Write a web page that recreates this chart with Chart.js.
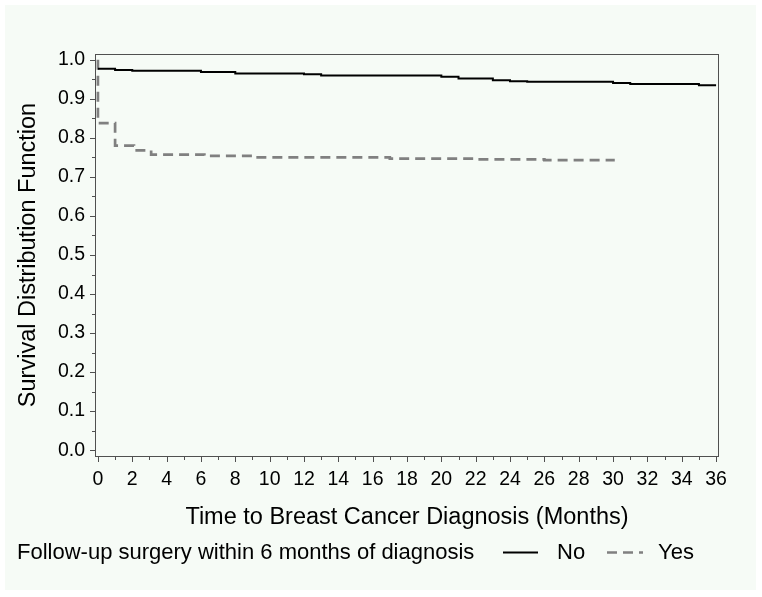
<!DOCTYPE html>
<html>
<head>
<meta charset="utf-8">
<script src="https://cdn.jsdelivr.net/npm/chart.js@4.4.1/dist/chart.umd.min.js"></script>
<style>
html,body{margin:0;padding:0;background:#ffffff;}
canvas{display:block;}
</style>
</head>
<body>
<canvas id="c" width="762" height="597"></canvas>
<script>
// ---- data ----
const noTime  = [0, 1, 2, 6, 8, 12, 13, 20, 21, 23, 24, 25, 30, 31, 35, 36];
const noSurv  = [0.977, 0.974, 0.972, 0.969, 0.965, 0.963, 0.960, 0.957, 0.952, 0.948, 0.945, 0.944, 0.941, 0.938, 0.935, 0.935];
const yesTime = [0, 0, 1, 2.1, 3.1, 6.2, 9, 17, 22, 26, 30.1];
const yesSurv = [1.0, 0.838, 0.780, 0.768, 0.757, 0.754, 0.750, 0.747, 0.745, 0.743, 0.743];
const xTickValues = [0,1,2,3,4,5,6,7,8,9,10,11,12,13,14,15,16,17,18,19,20,21,22,23,24,25,26,27,28,29,30,31,32,33,34,35,36];
const yTickValues = [0,0.05,0.1,0.15,0.2,0.25,0.3,0.35,0.4,0.45,0.5,0.55,0.6,0.65,0.7,0.75,0.8,0.85,0.9,0.95,1.0];
const seriesNames = ['No', 'Yes'];
const xTitle = 'Time to Breast Cancer Diagnosis (Months)';
const yTitle = 'Survival Distribution Function';
const legendTitle = 'Follow-up surgery within 6 months of diagnosis';

const FONT = "'Liberation Sans', Arial, Helvetica, sans-serif";
const BG = '#f6fbf6';
const GRAY = '#808080';

const toPts = (xs, ys) => xs.map((x, i) => ({x: x, y: ys[i]}));

const bgPlugin = {
  id: 'bg',
  beforeDraw(chart) {
    const ctx = chart.ctx;
    ctx.save();
    ctx.fillStyle = '#ffffff';
    ctx.fillRect(0, 0, chart.width, chart.height);
    ctx.fillStyle = BG;
    ctx.fillRect(5, 5, 751, 585);
    ctx.restore();
  }
};

const axesPlugin = {
  id: 'axesBox',
  afterDraw(chart) {
    const ctx = chart.ctx;
    const a = chart.chartArea;
    const xs = chart.scales.x, ys = chart.scales.y;
    ctx.save();
    ctx.strokeStyle = '#505050';
    ctx.lineWidth = 1;
    ctx.strokeRect(Math.round(a.left) + 0.5, Math.round(a.top) + 0.5,
                   Math.round(a.right - a.left) - 1, Math.round(a.bottom - a.top));
    ctx.beginPath();
    xTickValues.forEach(v => {
      const px = Math.round(xs.getPixelForValue(v)) + 0.5;
      const len = (v % 2 === 0) ? 5 : 3;
      ctx.moveTo(px, a.bottom);
      ctx.lineTo(px, a.bottom + len + 1);
    });
    yTickValues.forEach(v => {
      const py = Math.round(ys.getPixelForValue(v)) + 0.5;
      const major = Math.round(v * 20) % 2 === 0;
      const len = major ? 5 : 3;
      ctx.moveTo(a.left + 0.5, py);
      ctx.lineTo(a.left - len, py);
    });
    ctx.stroke();

    // legend
    ctx.fillStyle = '#000';
    ctx.font = '22px ' + FONT;
    ctx.textBaseline = 'alphabetic';
    ctx.textAlign = 'left';
    const by = 559;
    ctx.fillText(legendTitle, 17, by);
    ctx.beginPath();
    ctx.strokeStyle = '#000';
    ctx.lineWidth = 2;
    ctx.moveTo(503, 552.5);
    ctx.lineTo(538, 552.5);
    ctx.stroke();
    ctx.fillText(seriesNames[0], 557, by);
    ctx.beginPath();
    ctx.strokeStyle = GRAY;
    ctx.lineWidth = 2.7;
    ctx.setLineDash([10, 6]);
    ctx.moveTo(607, 552.5);
    ctx.lineTo(643, 552.5);
    ctx.stroke();
    ctx.setLineDash([]);
    ctx.fillText(seriesNames[1], 658, by);
    ctx.restore();
  }
};

new Chart(document.getElementById('c'), {
  type: 'line',
  data: {
    datasets: [
      {
        label: seriesNames[0],
        data: toPts(noTime, noSurv),
        borderColor: '#000000',
        borderWidth: 2,
        pointRadius: 0,
        stepped: true,
        fill: false
      },
      {
        label: seriesNames[1],
        data: toPts(yesTime, yesSurv),
        borderColor: GRAY,
        borderWidth: 2.7,
        borderDash: [10, 6],
        pointRadius: 0,
        stepped: true,
        fill: false
      }
    ]
  },
  options: {
    responsive: false,
    animation: false,
    devicePixelRatio: 1,
    events: [],
    layout: { padding: { left: 0, right: 43, top: 54, bottom: 61 } },
    plugins: { legend: { display: false }, tooltip: { enabled: false } },
    scales: {
      x: {
        type: 'linear',
        min: -0.17,
        max: 36.17,
        afterBuildTicks: s => { s.ticks = xTickValues.map(v => ({value: v})); },
        afterFit: s => { s.height = 80; },
        grid: { display: false, drawTicks: false },
        border: { display: false },
        ticks: {
          autoSkip: false, maxRotation: 0, minRotation: 0, padding: 12,
          color: '#000', font: { family: FONT, size: 19.5 },
          callback: v => (Math.round(v) % 2 === 0 ? String(Math.round(v)) : '')
        },
        title: {
          display: true, text: xTitle, color: '#000',
          font: { family: FONT, size: 23.5 }, padding: { top: 4, bottom: 4 }
        }
      },
      y: {
        type: 'linear',
        min: -0.015,
        max: 1.015,
        afterBuildTicks: s => { s.ticks = yTickValues.map(v => ({value: v})); },
        afterFit: s => { s.width = 95; },
        grid: { display: false, drawTicks: false },
        border: { display: false },
        ticks: {
          autoSkip: false, padding: 10,
          color: '#000', font: { family: FONT, size: 19.5 },
          callback: v => { const k = Math.round(v * 20); return k % 2 === 0 ? (k / 20).toFixed(1) : ''; }
        },
        title: {
          display: true, text: yTitle, color: '#000',
          font: { family: FONT, size: 23.5 }, padding: { top: 14, bottom: 4 }
        }
      }
    }
  },
  plugins: [bgPlugin, axesPlugin]
});
</script>
</body>
</html>
